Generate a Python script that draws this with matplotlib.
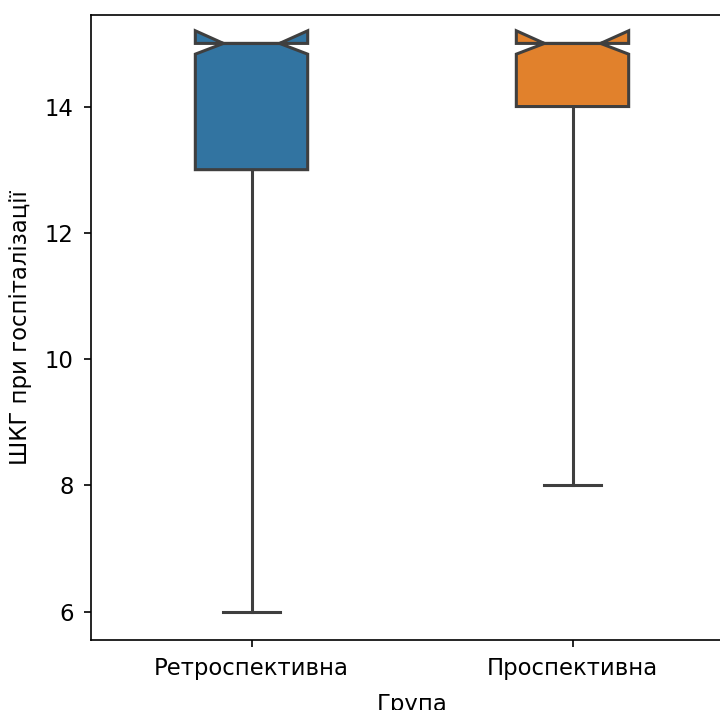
import matplotlib
matplotlib.use("Agg")
import matplotlib.pyplot as plt

categories = ["Ретроспективна", "Проспективна"]
q1 = [13, 14]
med = [15, 15]
q3 = [15, 15]
whislo = [6, 8]
whishi = [15, 15]
cilo = [14.83, 14.83]
cihi = [15.2, 15.2]
colors = ["#3274a1", "#e1812c"]

stats = []
for i, c in enumerate(categories):
    stats.append(dict(label=c, med=med[i], q1=q1[i], q3=q3[i],
                      whislo=whislo[i], whishi=whishi[i],
                      cilo=cilo[i], cihi=cihi[i], fliers=[]))

fig = plt.figure(figsize=(7.2, 7.1), dpi=100)
ax = fig.add_axes([91/720, 70/710, 642/720, 625/710])
line = "#3f3f3f"
lw = 2.2
bp = ax.bxp(stats, positions=range(len(categories)), widths=0.35,
            shownotches=True, patch_artist=True, showfliers=False,
            boxprops=dict(edgecolor=line, linewidth=lw),
            medianprops=dict(color=line, linewidth=lw),
            whiskerprops=dict(color=line, linewidth=lw),
            capprops=dict(color=line, linewidth=lw))
for p, c in zip(bp["boxes"], colors):
    p.set_facecolor(c)

ax.set_xlim(-0.5, 1.5)
ax.set_ylim(5.55, 15.45)
ax.set_xticks(range(len(categories)))
ax.set_xticklabels(categories)
ax.set_yticks([6, 8, 10, 12, 14])
ax.tick_params(labelsize=16.4, width=1.2, length=5, pad=7.5)
for s in ax.spines.values():
    s.set_linewidth(1.2)
ax.set_xlabel("Група", fontsize=16.4, labelpad=9)
ax.set_ylabel("ШКГ при госпіталізації", fontsize=16.4, labelpad=9)
fig.savefig("out.png", dpi=100)
